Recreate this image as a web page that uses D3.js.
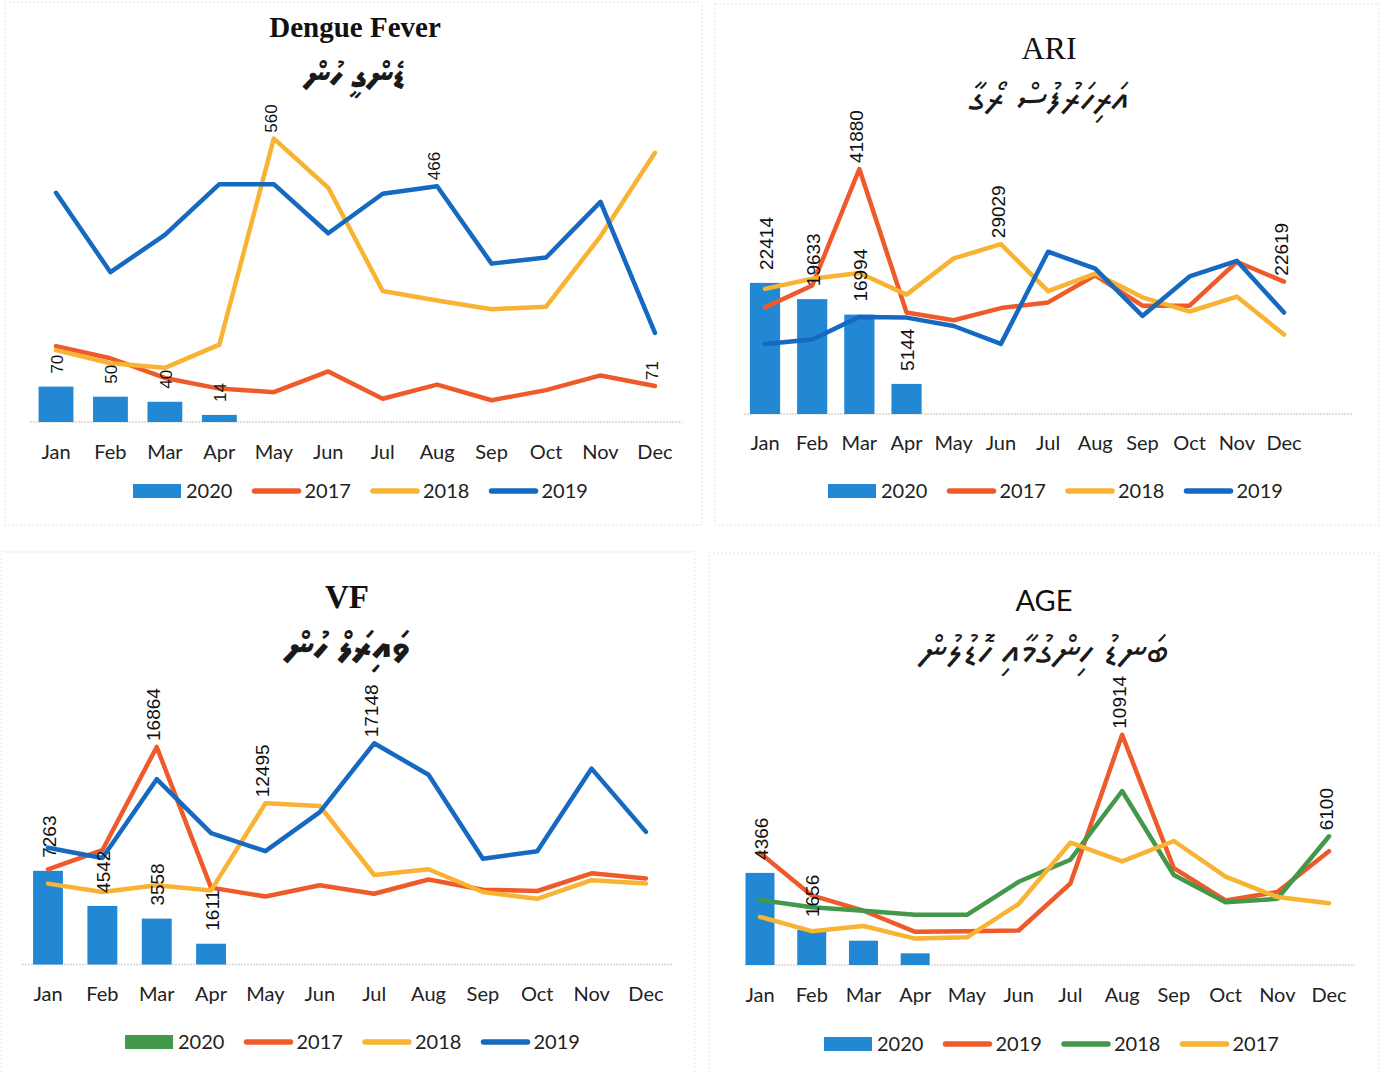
<!DOCTYPE html>
<html>
<head>
<meta charset="utf-8">
<script src="https://cdn.jsdelivr.net/npm/d3@7"></script>
<style>
  body { margin: 0; background: #fff; }
  svg { display: block; }
</style>
</head>
<body>
<div id="chart"></div>
<script>
const months = ["Jan", "Feb", "Mar", "Apr", "May", "Jun", "Jul", "Aug", "Sep", "Oct", "Nov", "Dec"];
const barMonths = ["Jan", "Feb", "Mar", "Apr"];

// Dengue fever
const dengue2020 = [70, 50, 40, 14];
const dengue2017 = [150, 126, 87, 66, 59, 100, 46, 74, 43, 63, 92, 71];
const dengue2018 = [142, 116, 107, 153, 560, 463, 259, 240, 223, 228, 367, 532];
const dengue2019 = [453, 296, 370, 470, 470, 373, 451, 466, 313, 325, 435, 176];

// ARI
const ari2020 = [22414, 19633, 16994, 5144];
const ari2017 = [18222, 21966, 41880, 17350, 16017, 18103, 19077, 23709, 18513, 18513, 26017, 22619];
const ari2018 = [21385, 23128, 24103, 20410, 26598, 29029, 20991, 24000, 19949, 17521, 20068, 13590];
const ari2019 = [11983, 12735, 16598, 16479, 15043, 11983, 27744, 24855, 16769, 23521, 26188, 17350];

// VF
const vf2020 = [7263, 4542, 3558, 1611];
const vf2017 = [7380, 8860, 16864, 5961, 5271, 6140, 5481, 6589, 5798, 5698, 7070, 6674];
const vf2018 = [6271, 5620, 6140, 5744, 12495, 12287, 6938, 7380, 5620, 5093, 6535, 6271];
const vf2019 = [9047, 8256, 14364, 10178, 8783, 11814, 17148, 14713, 8194, 8783, 15186, 10279];

// AGE
const age2020 = [4366, 1656, 1152, 555];
const age2019 = [5313, 3299, 2573, 1573, 1602, 1635, 3863, 10914, 4588, 3057, 3460, 5393];
const age2018 = [3085, 2735, 2573, 2379, 2379, 3943, 4990, 8246, 4265, 2976, 3137, 6100];
const age2017 = [2280, 1602, 1848, 1251, 1313, 2891, 5796, 4910, 5877, 4185, 3218, 2929];

// which points carry a value label: [series, month]
const dengueLabels = [["2018", "May"], ["2019", "Aug"], ["2017", "Dec"]];
const ariLabels = [["2017", "Mar"], ["2018", "Jun"], ["2017", "Dec"]];
const vfLabels = [["2017", "Mar"], ["2018", "May"], ["2019", "Jul"]];
const ageLabels = [["2019", "Aug"], ["2018", "Dec"]];

const dengueBarLabels = ["Jan", "Feb", "Mar", "Apr"];
const ariBarLabels = ["Jan", "Feb", "Mar", "Apr"];
const vfBarLabels = ["Jan", "Feb", "Mar", "Apr"];
const ageBarLabels = ["Jan", "Feb"];

const col = {
  bar: "#2388d3",
  red: "#ef5a2b",
  yellow: "#f8b332",
  blue: "#1669c0",
  green: "#43984a"
};

const panels = [
  {
    title: "Dengue Fever", titleFont: "Liberation Serif", titleWeight: "bold", titleSize: 29,
    titleX: 355, titleY: 37, sub: "ޑެންގީ ހުން", subY: 87, subSize: 36, subWeight: "bold",
    frame: [5, 2, 697, 523],
    c0: 56, step: 54.45, pad: 0.36, base: 422, yMax: 600, ppu: 0.506,
    grid: [30, 682], tickPad: 23, labelSize: 17,
    bars: dengue2020, barLabels: dengueBarLabels,
    lines: [{ key: "2017", values: dengue2017, color: col.red },
            { key: "2018", values: dengue2018, color: col.yellow },
            { key: "2019", values: dengue2019, color: col.blue }],
    labels: dengueLabels,
    legendX: 133, legendY: 491, legendBar: col.bar
  },
  {
    title: "ARI", titleFont: "Liberation Serif", titleWeight: "normal", titleSize: 32,
    titleX: 1049, titleY: 59, sub: "އަރިހަރުފުސް ރޯގާ", subY: 111, subSize: 40, subWeight: "normal",
    frame: [715, 4, 664, 521],
    c0: 765, step: 47.18, pad: 0.36, base: 414, yMax: 45000, ppu: 0.00585,
    grid: [744, 1352], tickPad: 22, labelSize: 19,
    bars: ari2020, barLabels: ariBarLabels,
    lines: [{ key: "2017", values: ari2017, color: col.red },
            { key: "2018", values: ari2018, color: col.yellow },
            { key: "2019", values: ari2019, color: col.blue }],
    labels: ariLabels,
    legendX: 828, legendY: 491, legendBar: col.bar
  },
  {
    title: "VF", titleFont: "Liberation Serif", titleWeight: "bold", titleSize: 33,
    titleX: 347, titleY: 608, sub: "ވައިރަލް ހުން", subY: 660, subSize: 40, subWeight: "bold",
    frame: [1, 552, 694, 530],
    c0: 48, step: 54.36, pad: 0.45, base: 964.5, yMax: 18000, ppu: 0.0129,
    grid: [22, 672], tickPad: 22, labelSize: 19,
    bars: vf2020, barLabels: vfBarLabels,
    lines: [{ key: "2017", values: vf2017, color: col.red },
            { key: "2018", values: vf2018, color: col.yellow },
            { key: "2019", values: vf2019, color: col.blue }],
    labels: vfLabels,
    legendX: 125, legendY: 1042, legendBar: col.green
  },
  {
    title: "AGE", titleFont: "Lato", titleWeight: "normal", titleSize: 29,
    titleX: 1044, titleY: 611, sub: "ބަނޑު ހިންގުމާއި ހޮޑުލުން", subY: 664, subSize: 41, subWeight: "normal",
    frame: [709, 553, 670, 530],
    c0: 760, step: 51.73, pad: 0.44, base: 965, yMax: 12000, ppu: 0.0211,
    grid: [745, 1355], tickPad: 23, labelSize: 19,
    bars: age2020, barLabels: ageBarLabels,
    lines: [{ key: "2019", values: age2019, color: col.red },
            { key: "2018", values: age2018, color: col.green },
            { key: "2017", values: age2017, color: col.yellow }],
    labels: ageLabels,
    legendX: 824, legendY: 1044, legendBar: col.bar
  }
];

const svg = d3.select("#chart")
  .append("svg")
  .attr("width", 1390)
  .attr("height", 1074);

panels.forEach(function(p) {
  const g = svg.append("g");

  // faint frame round the chart
  g.append("rect")
    .attr("x", p.frame[0]).attr("y", p.frame[1])
    .attr("width", p.frame[2]).attr("height", p.frame[3])
    .attr("fill", "none")
    .attr("stroke", "#e4e4e4")
    .attr("stroke-dasharray", "2,2");

  const x = d3.scaleBand()
    .domain(months)
    .range([p.c0 - p.step / 2, p.c0 + p.step * 11.5])
    .paddingInner(p.pad)
    .paddingOuter(p.pad / 2);
  const cx = function(m) { return x(m) + x.bandwidth() / 2; };

  const y = d3.scaleLinear()
    .domain([0, p.yMax])
    .range([p.base, p.base - p.yMax * p.ppu]);

  // titles
  g.append("text")
    .attr("x", p.titleX).attr("y", p.titleY)
    .attr("text-anchor", "middle")
    .style("font-family", p.titleFont)
    .style("font-weight", p.titleWeight)
    .style("font-size", p.titleSize + "px")
    .attr("fill", "#111")
    .text(p.title);
  g.append("text")
    .attr("x", p.titleX).attr("y", p.subY)
    .attr("text-anchor", "middle")
    .attr("direction", "rtl")
    .style("font-family", "'Noto Sans Thaana', 'MV Boli', 'DejaVu Sans', sans-serif")
    .style("font-size", p.subSize + "px")
    .style("font-weight", p.subWeight)
    .attr("fill", "#1a1a1a")
    .text(p.sub);

  // baseline grid line
  g.append("line")
    .attr("x1", p.grid[0]).attr("x2", p.grid[1])
    .attr("y1", y(0)).attr("y2", y(0))
    .attr("stroke", "#d6d6d6")
    .attr("stroke-width", 1.5)
    .attr("stroke-dasharray", "2,1");

  // x axis
  const axis = g.append("g")
    .attr("transform", "translate(0," + y(0) + ")")
    .call(d3.axisBottom(x).tickSize(0).tickPadding(p.tickPad));
  axis.select("path.domain").remove();
  axis.selectAll("text")
    .style("font-family", "Lato")
    .style("font-size", "20px")
    .attr("fill", "#222");

  // 2020 bars
  const barData = barMonths.map(function(m, i) { return { m: m, v: p.bars[i] }; });
  g.selectAll(".bar")
    .data(barData)
    .enter()
    .append("rect")
      .attr("x", function(d) { return x(d.m); })
      .attr("y", function(d) { return y(d.v); })
      .attr("width", x.bandwidth())
      .attr("height", function(d) { return y(0) - y(d.v); })
      .attr("fill", col.bar);

  // year lines
  const line = d3.line()
    .x(function(d) { return cx(d.m); })
    .y(function(d) { return y(d.v); });
  p.lines.forEach(function(s) {
    const pts = months.map(function(m, i) { return { m: m, v: s.values[i] }; });
    g.append("path")
      .datum(pts)
      .attr("d", line)
      .attr("fill", "none")
      .attr("stroke", s.color)
      .attr("stroke-width", 4.5)
      .attr("stroke-linejoin", "round")
      .attr("stroke-linecap", "round");
  });

  // value labels, rotated
  function vlabel(m, v, gap, dx) {
    const px = cx(m) + dx, py = y(v) - gap;
    g.append("text")
      .attr("transform", "translate(" + px + "," + py + ") rotate(-90)")
      .attr("dy", "0.35em")
      .attr("text-anchor", "start")
      .style("font-family", "Liberation Sans")
      .style("font-size", p.labelSize + "px")
      .attr("fill", "#111")
      .text(v);
  }
  p.barLabels.forEach(function(m) {
    vlabel(m, p.bars[barMonths.indexOf(m)], 13, 1);
  });
  p.labels.forEach(function(l) {
    const s = p.lines.find(function(d) { return d.key === l[0]; });
    vlabel(l[1], s.values[months.indexOf(l[1])], 6, -3);
  });

  // legend
  const items = [{ key: "2020", bar: true, color: p.legendBar }].concat(p.lines.map(function(s) {
    return { key: s.key, bar: false, color: s.color };
  }));
  items.forEach(function(it, i) {
    const lx = p.legendX + i * 118.5;
    if (it.bar) {
      g.append("rect")
        .attr("x", lx).attr("y", p.legendY - 7)
        .attr("width", 48).attr("height", 14)
        .attr("fill", it.color);
    } else {
      g.append("line")
        .attr("x1", lx + 3).attr("x2", lx + 47)
        .attr("y1", p.legendY).attr("y2", p.legendY)
        .attr("stroke", it.color)
        .attr("stroke-width", 5.5)
        .attr("stroke-linecap", "round");
    }
    g.append("text")
      .attr("x", lx + 53).attr("y", p.legendY)
      .attr("dy", "0.36em")
      .style("font-family", "Lato")
      .style("font-size", "20px")
      .attr("fill", "#222")
      .text(it.key);
  });
});
</script>
</body>
</html>
